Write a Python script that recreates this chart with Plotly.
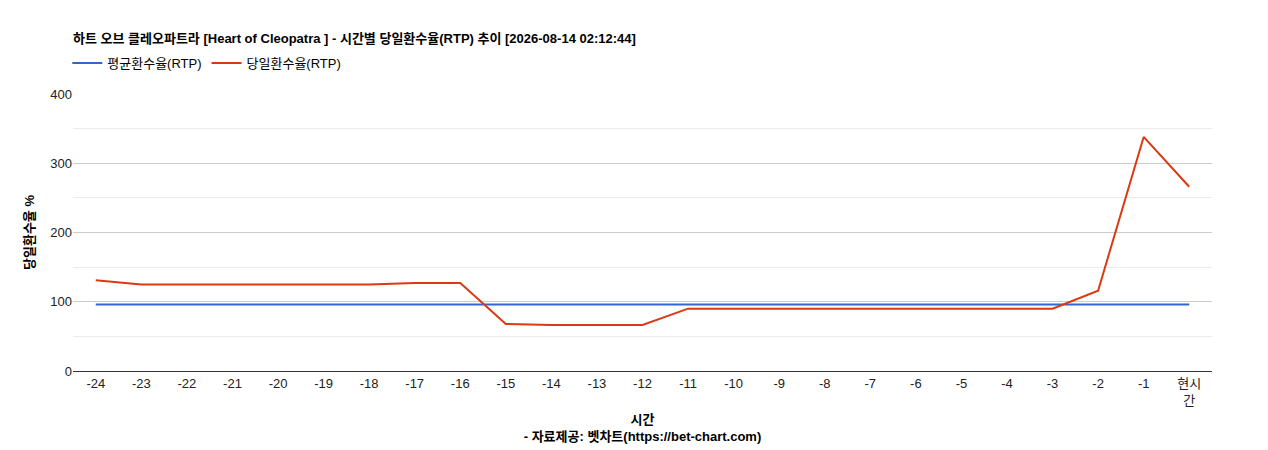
import plotly.graph_objects as go

hours = ['-24', '-23', '-22', '-21', '-20', '-19', '-18', '-17', '-16', '-15', '-14', '-13',
         '-12', '-11', '-10', '-9', '-8', '-7', '-6', '-5', '-4', '-3', '-2', '-1', '현시<br>간']
avg_rtp = [96] * 25
today_rtp = [131, 125, 125, 125, 125, 125, 125, 127, 127, 68, 66.5, 66.5, 66.5,
             90, 90, 90, 90, 90, 90, 90, 90, 90, 116, 338, 266]

font = 'Liberation Sans, Noto Sans CJK KR'
fig = go.Figure()
fig.add_trace(go.Scatter(x=hours, y=avg_rtp, mode='lines', name='평균환수율(RTP)',
                         line=dict(color='#3366cc', width=2)))
fig.add_trace(go.Scatter(x=hours, y=today_rtp, mode='lines', name='당일환수율(RTP)',
                         line=dict(color='#dc3912', width=2)))

fig.update_layout(
    width=1268, height=450, plot_bgcolor='white', paper_bgcolor='white',
    font=dict(family=font, size=13, color='#222'),
    margin=dict(l=65, r=64, t=86, b=87, autoexpand=False),
    title=dict(text='<b>하트 오브 클레오파트라 [Heart of Cleopatra ] - 시간별 당일환수율(RTP) 추이 [2026-08-14 02:12:44]</b>',
               x=0, xref='paper', xanchor='left', yref='container', y=1 - 30 / 450,
               yanchor='middle', font=dict(size=13, color='#000')),
    legend=dict(orientation='h', x=-0.005, y=1 + 31 / 277, xanchor='left', yanchor='middle',
                font=dict(size=13, color='#000')),
    showlegend=True,
)
fig.update_xaxes(type='category', range=[-0.5, 24.5], showgrid=False, showline=True,
                 linecolor='#333', ticks='', automargin=False, tickfont=dict(size=13, color='#222'),
                 title=dict(text='<b>시간</b><br><b>- 자료제공: 벳차트(https://bet-chart.com)</b>',
                            font=dict(size=13, color='#000'), standoff=8))
fig.update_yaxes(range=[0, 400], tickvals=[0, 100, 200, 300, 400], gridcolor='#cccccc',
                 minor=dict(tickvals=[50, 150, 250, 350], showgrid=True, gridcolor='#ebebeb'),
                 zeroline=False, automargin=False, tickfont=dict(size=13, color='#222'),
                 title=dict(text='<b>당일환수율 %</b>', font=dict(size=13, color='#000'), standoff=12))
fig.write_html('out.html')
